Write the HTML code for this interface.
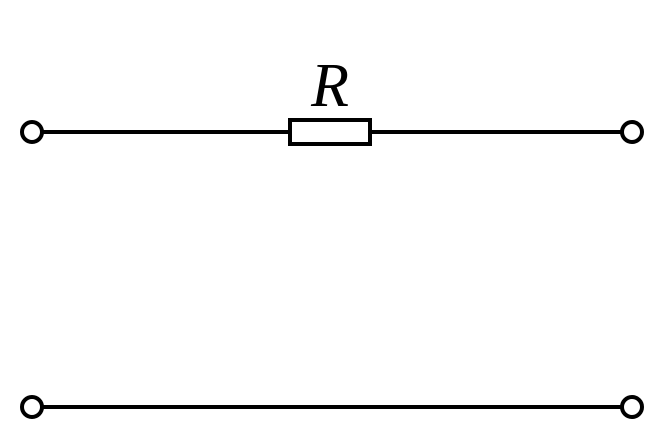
<!DOCTYPE html>
<html><head><style>html,body{margin:0;padding:0;background:#fff;width:670px;height:440px;overflow:hidden}</style></head>
<body>
<svg width="670" height="440" viewBox="0 0 670 440" xmlns="http://www.w3.org/2000/svg">
<g stroke="#000" stroke-width="4" fill="none">
<line x1="42" y1="132" x2="289" y2="132"/>
<line x1="370" y1="132" x2="622" y2="132"/>
<rect x="290" y="120" width="80" height="24" fill="#fff"/>
<line x1="42" y1="407" x2="622" y2="407"/>
<circle cx="32" cy="132" r="10" fill="#fff"/>
<circle cx="632" cy="132" r="10" fill="#fff"/>
<circle cx="32" cy="407" r="10" fill="#fff"/>
<circle cx="632" cy="407" r="10" fill="#fff"/>
</g>
<text x="330" y="106" font-family="Liberation Serif, serif" font-style="italic" font-size="62" text-anchor="middle">R</text>
</svg>
</body></html>
